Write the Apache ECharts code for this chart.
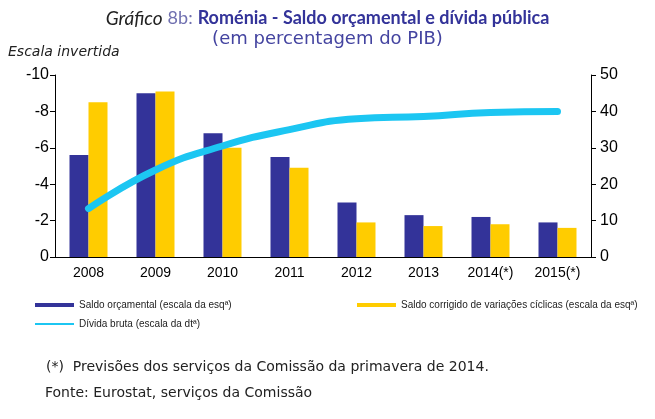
<!DOCTYPE html>
<html>
<head>
<meta charset="utf-8">
<script src="https://cdn.jsdelivr.net/npm/echarts@6/dist/echarts.min.js"></script>
<style>html,body{margin:0;padding:0;background:#fff}#c{width:655px;height:419px}</style>
</head>
<body>
<div id="c"></div>
<script>
const categories = ['2008','2009','2010','2011','2012','2013','2014(*)','2015(*)'];
const saldoOrcamental = [-5.6, -9.0, -6.8, -5.5, -3.0, -2.3, -2.2, -1.9];
const saldoCorrigido = [-8.5, -9.1, -6.0, -4.9, -1.9, -1.7, -1.8, -1.6];
const dividaBruta = [13.3, 23.9, 30.5, 35.0, 38.0, 38.6, 39.7, 40.0];
const leftTicks = [-10, 0, 2];
const rightTicks = [0, 50, 10];

const chart = echarts.init(document.getElementById('c'));
const axisFont = 'Liberation Sans, Arial, sans-serif';
const gothic = 'DejaVu Sans, sans-serif';
const titleFont = 'Lato, DejaVu Sans, sans-serif';
chart.setOption({
  animation: false,
  title: [
    {left: 'center', top: 4,
     text: '{a|Gráfico} {b|8b:} {c|Roménia - Saldo orçamental e dívida pública}',
     textStyle: {
       fontWeight: 'normal',
       rich: {
         a: {fontFamily: titleFont, fontStyle: 'italic', fontWeight: 'normal', fontSize: 19, color: '#222'},
         b: {fontFamily: titleFont, fontWeight: 'normal', fontSize: 18, color: '#7070b0'},
         c: {fontFamily: titleFont, fontWeight: 'bold', fontSize: 18, color: '#333399'}
       }
     }},
    {left: 'center', top: 25, text: '(em percentagem do PIB)',
     textStyle: {fontFamily: gothic, fontWeight: 'normal', fontSize: 18, color: '#4444a0'}}
  ],
  graphic: [
    {type: 'text', left: 8, top: 45, style: {text: 'Escala invertida', font: 'italic 14px ' + gothic, fill: '#222'}},
    {type: 'text', left: 46, top: 360, style: {text: '(*)  Previsões dos serviços da Comissão da primavera de 2014.', font: '14px ' + gothic, fill: '#222'}},
    {type: 'text', left: 45, top: 386, style: {text: 'Fonte: Eurostat, serviços da Comissão', font: '14px ' + gothic, fill: '#222'}}
  ],
  legend: [
    {data: ['Saldo orçamental (escala da esqª)'], left: 30, top: 295, itemWidth: 39, itemHeight: 4, icon: 'rect',
     textStyle: {fontSize: 10, fontFamily: axisFont, color: '#222'}},
    {data: ['Saldo corrigido de variações cíclicas (escala da esqª)'], left: 352, top: 295, itemWidth: 39, itemHeight: 4, icon: 'rect',
     textStyle: {fontSize: 10, fontFamily: axisFont, color: '#222'}},
    {data: ['Dívida bruta (escala da dtª)'], left: 30, top: 314, itemWidth: 39, itemHeight: 2, icon: 'rect',
     textStyle: {fontSize: 10, fontFamily: axisFont, color: '#222'}}
  ],
  grid: {left: 55, right: 64, top: 75, height: 182},
  xAxis: {
    type: 'category', data: categories,
    axisLine: {lineStyle: {color: '#000', width: 1}},
    axisTick: {inside: true, length: 4, lineStyle: {color: '#000'}},
    axisLabel: {fontFamily: axisFont, fontSize: 14, color: '#000', margin: 9}
  },
  yAxis: [
    {type: 'value', min: leftTicks[0], max: leftTicks[1], interval: leftTicks[2], inverse: true,
     axisLine: {show: true, lineStyle: {color: '#000'}},
     axisTick: {show: true, length: 5, lineStyle: {color: '#000'}},
     splitLine: {show: false},
     axisLabel: {fontFamily: axisFont, fontSize: 16, color: '#000', margin: 6}},
    {type: 'value', min: rightTicks[0], max: rightTicks[1], interval: rightTicks[2], position: 'right',
     axisLine: {show: true, lineStyle: {color: '#000'}},
     axisTick: {show: true, length: 5, lineStyle: {color: '#000'}},
     splitLine: {show: false},
     axisLabel: {fontFamily: axisFont, fontSize: 16, color: '#000', margin: 9}}
  ],
  series: [
    {name: 'Saldo orçamental (escala da esqª)', type: 'bar', data: saldoOrcamental, yAxisIndex: 0,
     barWidth: 19, barGap: '0%', itemStyle: {color: '#333399'}},
    {name: 'Saldo corrigido de variações cíclicas (escala da esqª)', type: 'bar', data: saldoCorrigido, yAxisIndex: 0,
     barWidth: 19, barGap: '0%', itemStyle: {color: '#FFCC00'}},
    {name: 'Dívida bruta (escala da dtª)', type: 'line', data: dividaBruta, yAxisIndex: 1,
     smooth: true, showSymbol: false, symbol: 'none', itemStyle: {color: '#1CC6F2'},
     lineStyle: {color: '#1CC6F2', width: 7, cap: 'round'}, z: 5}
  ]
});
</script>
</body>
</html>
